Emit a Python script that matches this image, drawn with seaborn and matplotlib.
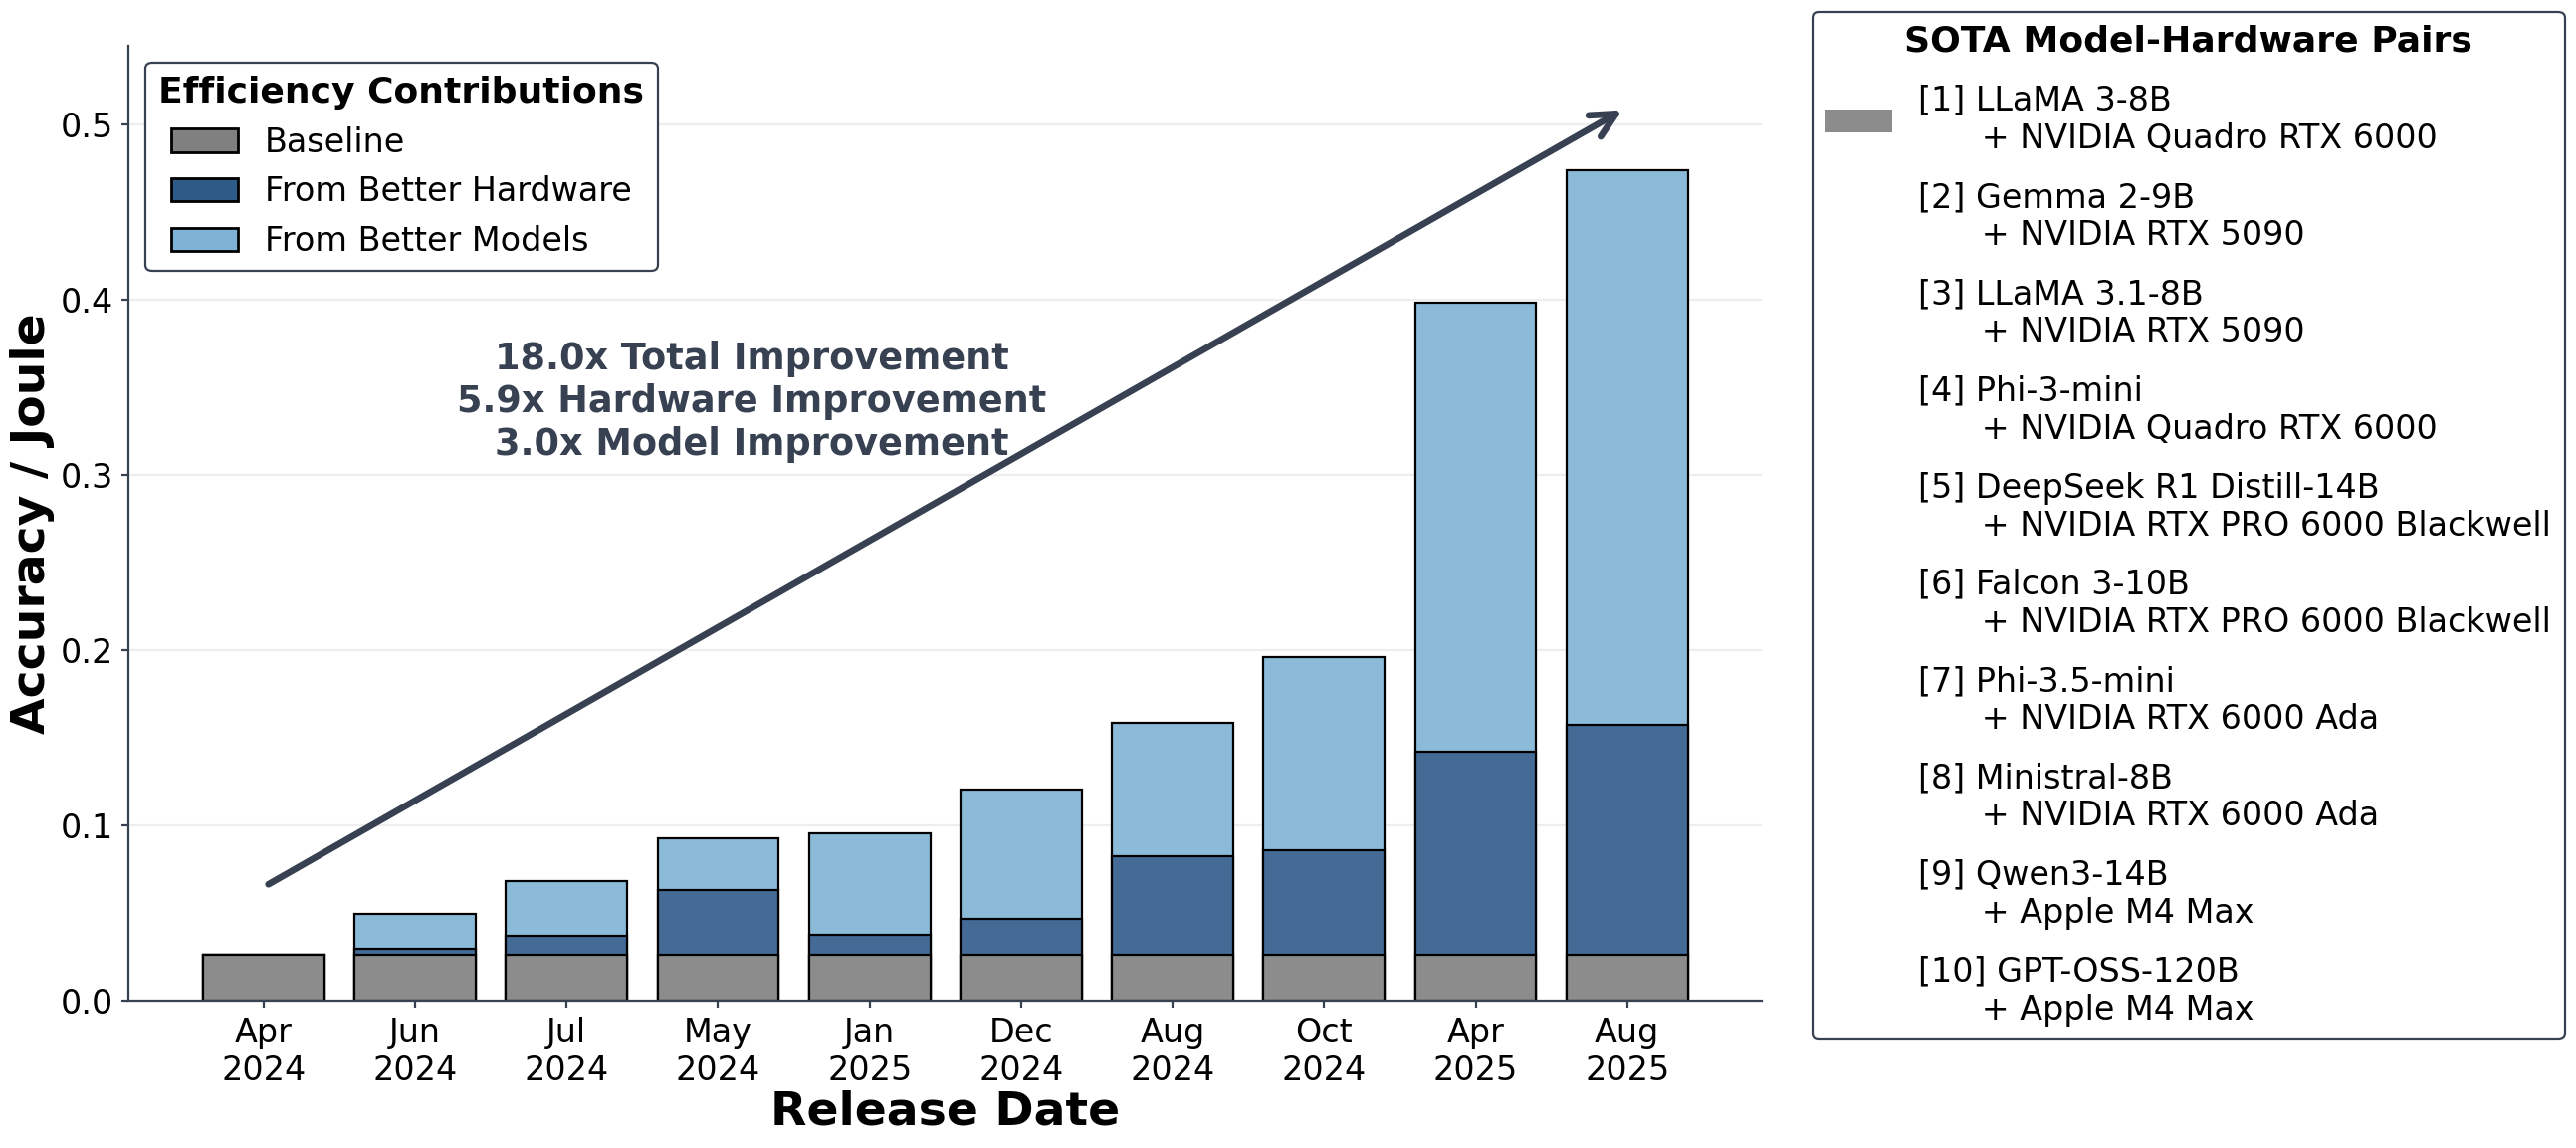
import pandas as pd
import matplotlib
matplotlib.use("Agg")
import matplotlib.pyplot as plt
from matplotlib.patches import Patch
import seaborn as sns

# Data
release_dates = ["Apr\n2024", "Jun\n2024", "Jul\n2024", "May\n2024", "Jan\n2025",
                 "Dec\n2024", "Aug\n2024", "Oct\n2024", "Apr\n2025", "Aug\n2025"]
baseline = [0.0265] * 10
hardware_gain = [0.0, 0.0034, 0.0106, 0.0368, 0.0110, 0.0201, 0.0561, 0.0593, 0.1160, 0.1310]
model_gain = [0.0, 0.0195, 0.0311, 0.0297, 0.0580, 0.0742, 0.0762, 0.1106, 0.2563, 0.3165]

pair_labels = [
    "[1] LLaMA 3-8B\n      + NVIDIA Quadro RTX 6000",
    "[2] Gemma 2-9B\n      + NVIDIA RTX 5090",
    "[3] LLaMA 3.1-8B\n      + NVIDIA RTX 5090",
    "[4] Phi-3-mini\n      + NVIDIA Quadro RTX 6000",
    "[5] DeepSeek R1 Distill-14B\n      + NVIDIA RTX PRO 6000 Blackwell",
    "[6] Falcon 3-10B\n      + NVIDIA RTX PRO 6000 Blackwell",
    "[7] Phi-3.5-mini\n      + NVIDIA RTX 6000 Ada",
    "[8] Ministral-8B\n      + NVIDIA RTX 6000 Ada",
    "[9] Qwen3-14B\n      + Apple M4 Max",
    "[10] GPT-OSS-120B\n      + Apple M4 Max",
]

annotation_text = "18.0x Total Improvement\n5.9x Hardware Improvement\n3.0x Model Improvement"

# Colours
base_col = "#808080"
hw_col = "#2E5A88"
model_col = "#7FB3D5"
# opaque versions of the same colours at alpha 0.9 (bars overlap when stacked)
base_bar = "#8c8c8c"
hw_bar = "#436b96"
model_bar = "#8cbbd9"
slate = "#374151"

df = pd.DataFrame({"date": release_dates, "base": baseline,
                   "hw": hardware_gain, "model": model_gain})
df["base_hw"] = df["base"] + df["hw"]
df["total"] = df["base_hw"] + df["model"]

sns.set_theme(style="whitegrid")
plt.rcParams["font.family"] = ["DejaVu Sans"]
plt.rcParams["text.color"] = "black"
plt.rcParams["axes.labelcolor"] = "black"
plt.rcParams["legend.labelcolor"] = "black"

fig, ax = plt.subplots(figsize=(12.94, 5.765), dpi=200)
fig.subplots_adjust(left=0.05, right=0.684, bottom=0.128, top=0.96)

bar_kw = dict(x="date", order=release_dates, saturation=1, errorbar=None,
              edgecolor="black", linewidth=0.8, width=0.8, ax=ax)
sns.barplot(data=df, y="total", color=model_bar, **bar_kw)
sns.barplot(data=df, y="base_hw", color=hw_bar, **bar_kw)
sns.barplot(data=df, y="base", color=base_bar, **bar_kw)

ax.set_xlim(-0.89, 9.89)
ax.set_ylim(0, df["total"].max() * 1.15)
ax.set_yticks([0.0, 0.1, 0.2, 0.3, 0.4, 0.5])
ax.set_yticklabels([f"{v:.1f}" for v in [0.0, 0.1, 0.2, 0.3, 0.4, 0.5]])

ax.set_xlabel("Release Date", fontsize=17, fontweight="bold", labelpad=1)
ax.set_ylabel("Accuracy / Joule", fontsize=17, fontweight="bold", labelpad=2)
ax.tick_params(axis="both", labelsize=12, length=2.5, width=0.8, pad=3,
               color=slate, labelcolor="black", left=True, bottom=True)

ax.grid(axis="x", visible=False)
ax.grid(axis="y", color="#eeeeee", linewidth=0.8)
ax.set_axisbelow(True)
for side in ["top", "right"]:
    ax.spines[side].set_visible(False)
for side in ["left", "bottom"]:
    ax.spines[side].set_color(slate)
    ax.spines[side].set_linewidth(0.8)

# Trend arrow and summary text
ax.annotate("", xy=(9.0, 0.51), xytext=(0.0, 0.065),
            arrowprops=dict(arrowstyle="->", color=slate, lw=2.4,
                            mutation_scale=22, capstyle="round"))
ax.text(3.22, 0.342, annotation_text, ha="center", va="center",
        fontsize=13.2, fontweight="bold", color=slate, linespacing=1.2)

# Contribution legend
handles = [Patch(facecolor=base_col, edgecolor="black", label="Baseline"),
           Patch(facecolor=hw_col, edgecolor="black", label="From Better Hardware"),
           Patch(facecolor=model_col, edgecolor="black", label="From Better Models")]
leg1 = ax.legend(handles=handles, loc="upper left", fontsize=12,
                 title="Efficiency Contributions",
                 title_fontproperties={"weight": "bold", "size": 13},
                 frameon=True, fancybox=True, framealpha=1, edgecolor=slate)
leg1.get_frame().set_linewidth(0.8)

# Model-hardware pairs legend
pair_handles = [Patch(facecolor=base_col, edgecolor="none", alpha=0.9)]
pair_handles += [Patch(facecolor="none", edgecolor="none") for _ in pair_labels[1:]]
leg2 = fig.legend(handles=pair_handles, labels=pair_labels, loc="upper left",
                  bbox_to_anchor=(0.7035, 0.99), borderaxespad=0, fontsize=12,
                  labelspacing=0.78,
                  title="SOTA Model-Hardware Pairs",
                  title_fontproperties={"weight": "bold", "size": 13},
                  frameon=True, fancybox=True, framealpha=1, edgecolor=slate)
leg2.get_frame().set_linewidth(0.8)

fig.savefig("out.png", dpi=200)
